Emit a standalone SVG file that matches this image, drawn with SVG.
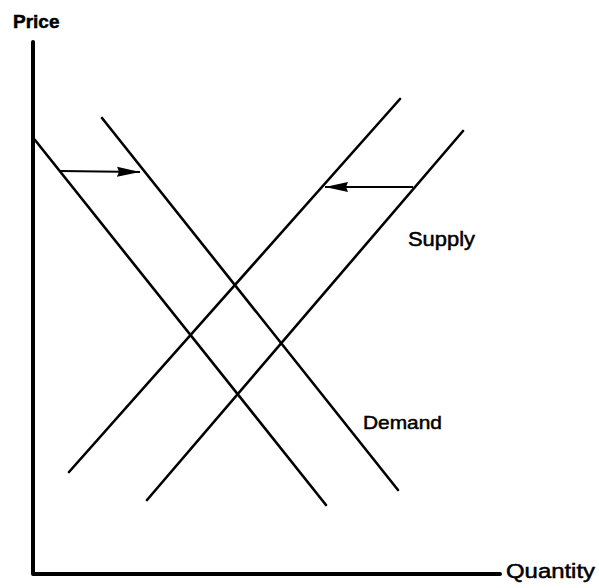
<svg xmlns="http://www.w3.org/2000/svg" width="599" height="588" viewBox="0 0 599 588">
<defs>
<style>
.axis{stroke:#000;stroke-width:4;fill:none;stroke-linecap:round;stroke-linejoin:round}
.curve{stroke:#000;stroke-width:2.6;fill:none;stroke-linecap:round}
.shift{stroke:#000;stroke-width:1.8;fill:none}
.lbl{font-family:"Liberation Sans",Arial,sans-serif;fill:#000;stroke:#000;stroke-width:0.5}
</style>
<marker id="ah" markerUnits="userSpaceOnUse" markerWidth="25" markerHeight="11" refX="23" refY="5.5" orient="auto" viewBox="0 0 25 11">
<path d="M0,0.5 L23,5.5 L0,10.5 L2,5.5 z" fill="#000"/>
</marker>
</defs>
<rect width="599" height="588" fill="#fff"/>
<g id="axes">
<path class="axis" d="M33,42 L33,574 L500,574"/>
<text class="lbl" x="13" y="28" font-size="19" font-weight="bold" stroke-width="0.3">Price</text>
<text class="lbl" x="506" y="578" font-size="20" textLength="89" lengthAdjust="spacingAndGlyphs">Quantity</text>
</g>
<g id="demand1"><line class="curve" x1="35" y1="140" x2="326" y2="505"/></g>
<g id="demand2"><line class="curve" x1="102" y1="118" x2="398" y2="490"/>
<text class="lbl" x="363" y="429" font-size="19" textLength="79" lengthAdjust="spacingAndGlyphs">Demand</text></g>
<g id="supply1"><line class="curve" x1="69" y1="472" x2="400" y2="99"/></g>
<g id="supply2"><line class="curve" x1="147" y1="500" x2="463" y2="131"/>
<text class="lbl" x="408" y="246" font-size="20" textLength="67" lengthAdjust="spacingAndGlyphs">Supply</text></g>
<g id="connectors">
<line class="shift" x1="60" y1="171" x2="140" y2="172" marker-end="url(#ah)"/>
<line class="shift" x1="413" y1="187" x2="325" y2="187" marker-end="url(#ah)"/>
</g>
</svg>
